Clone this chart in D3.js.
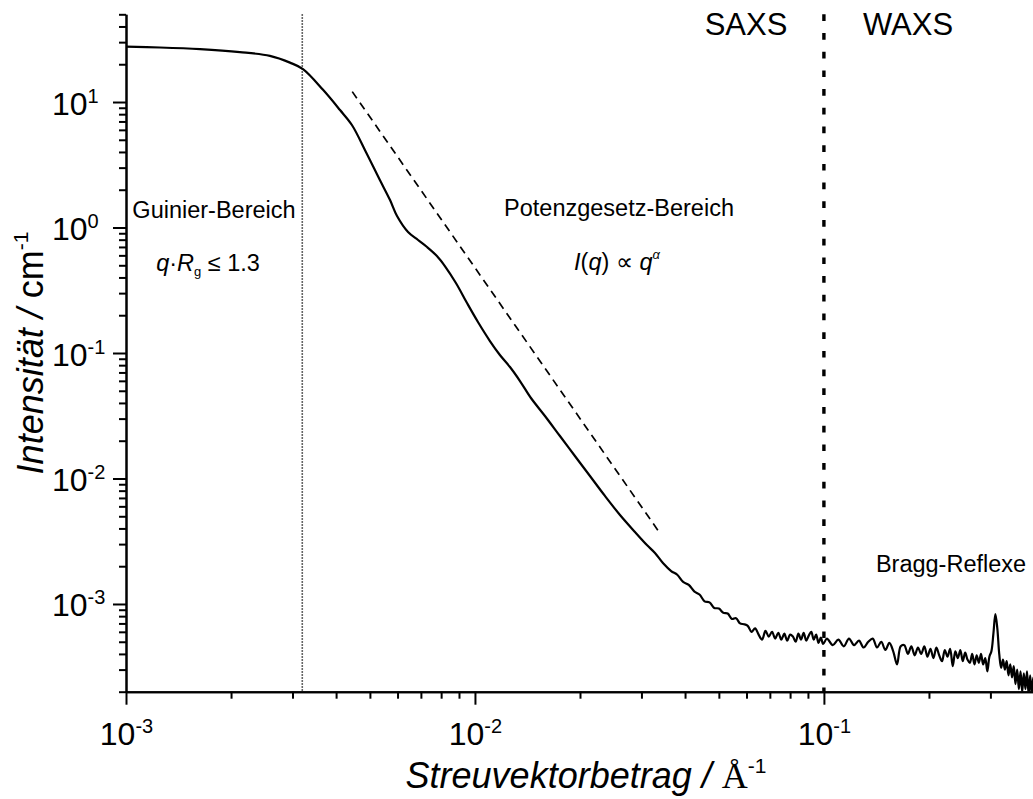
<!DOCTYPE html>
<html>
<head>
<meta charset="utf-8">
<script src="https://cdn.jsdelivr.net/npm/d3@7"></script>
<style>
  body { margin: 0; background: #fff; }
  svg { display: block; font-family: "Liberation Sans", Arial, sans-serif; }
</style>
</head>
<body>
<svg id="chart" width="1033" height="799"></svg>
<script>
// scattering curve (q in 1/Å, I in 1/cm)
const qLow = [1.0e-3, 1.251e-3, 1.63e-3, 2.12e-3, 2.585e-3, 2.95e-3, 3.215e-3, 3.67e-3, 4.105e-3, 4.44e-3,
  4.87e-3, 5.34e-3, 5.71e-3, 5.98e-3, 6.43e-3, 6.87e-3, 7.29e-3, 7.78e-3, 8.20e-3, 8.82e-3,
  9.49e-3, 1.020e-2, 1.104e-2, 1.179e-2, 1.260e-2, 1.346e-2, 1.447e-2, 1.587e-2, 1.752e-2, 1.934e-2,
  2.136e-2, 2.358e-2, 2.604e-2, 2.874e-2, 3.11e-2, 3.28e-2, 3.457e-2];
const iLow = [27.6, 27.2, 26.4, 25.0, 23.3, 20.6, 18.3, 12.5, 8.63, 6.56,
  4.0, 2.39, 1.656, 1.235, 0.921, 0.795, 0.699, 0.593, 0.493, 0.361,
  0.250, 0.1766, 0.1246, 0.0964, 0.0773, 0.0598, 0.0438, 0.0315, 0.0218, 0.0151,
  0.01047, 7.26e-3, 5.12e-3, 3.75e-3, 2.95e-3, 2.55e-3, 2.12e-3];

const qMid = [0.0365, 0.0380, 0.0395, 0.0410, 0.0425, 0.0440, 0.0455, 0.0470, 0.0485, 0.0500,
  0.0515, 0.0530, 0.0545, 0.0560, 0.0575, 0.0590, 0.0605, 0.0620, 0.0635, 0.0650,
  0.0665, 0.0680, 0.0695, 0.0710, 0.0725, 0.0740, 0.0755, 0.0770, 0.0785, 0.0800,
  0.0815, 0.0830, 0.0845, 0.0860, 0.0875, 0.0890, 0.0905, 0.0920, 0.0935, 0.0950,
  0.0965, 0.0980, 0.0995];
const iMid = [18.3e-4, 17.1e-4, 15.0e-4, 14.2e-4, 12.6e-4, 11.9e-4, 10.5e-4, 10.3e-4, 9.3e-4, 9.2e-4,
  8.5e-4, 8.4e-4, 7.6e-4, 7.7e-4, 7.0e-4, 6.9e-4, 6.7e-4, 6.0e-4, 6.4e-4, 5.7e-4,
  5.2e-4, 6.1e-4, 5.5e-4, 6.0e-4, 5.3e-4, 5.9e-4, 5.2e-4, 5.8e-4, 5.1e-4, 5.7e-4,
  5.5e-4, 5.0e-4, 5.8e-4, 5.2e-4, 5.9e-4, 5.1e-4, 5.6e-4, 6.0e-4, 5.2e-4, 5.7e-4,
  4.9e-4, 5.4e-4, 4.8e-4];

const qHigh = [0.102, 0.106, 0.110, 0.114, 0.118, 0.122, 0.126, 0.130, 0.134, 0.138,
  0.142, 0.146, 0.150, 0.154, 0.158, 0.162, 0.166, 0.170, 0.174, 0.178,
  0.182, 0.186, 0.190, 0.194, 0.198, 0.202, 0.206, 0.210, 0.214, 0.218,
  0.222, 0.226, 0.230, 0.234, 0.238, 0.242, 0.246, 0.250, 0.254, 0.258,
  0.262, 0.266, 0.270, 0.274, 0.278, 0.282, 0.286, 0.290, 0.294, 0.298,
  0.302, 0.306, 0.310, 0.314, 0.318, 0.322, 0.326, 0.330, 0.334, 0.338,
  0.342, 0.346, 0.350, 0.354, 0.358, 0.362, 0.366, 0.370, 0.374, 0.378,
  0.382, 0.386, 0.390, 0.394, 0.398, 0.402];
const iHigh = [5.3e-4, 4.7e-4, 5.2e-4, 4.6e-4, 5.3e-4, 4.7e-4, 5.1e-4, 4.5e-4, 5.0e-4, 5.3e-4,
  4.5e-4, 5.0e-4, 4.3e-4, 4.9e-4, 4.2e-4, 3.3e-4, 4.6e-4, 4.7e-4, 4.0e-4, 4.6e-4,
  3.9e-4, 4.5e-4, 4.0e-4, 4.6e-4, 3.8e-4, 4.4e-4, 3.7e-4, 4.5e-4, 3.9e-4, 3.5e-4,
  4.3e-4, 3.8e-4, 4.4e-4, 3.2e-4, 4.2e-4, 3.7e-4, 4.3e-4, 3.5e-4, 4.1e-4, 3.6e-4,
  3.4e-4, 4.0e-4, 3.3e-4, 3.9e-4, 3.4e-4, 4.0e-4, 3.3e-4, 3.7e-4, 2.9e-4, 3.8e-4,
  4.2e-4, 5.8e-4, 8.3e-4, 6.4e-4, 4.0e-4, 3.1e-4, 3.6e-4, 3.0e-4, 3.5e-4, 2.7e-4,
  3.3e-4, 2.6e-4, 3.2e-4, 2.3e-4, 3.0e-4, 2.1e-4, 2.9e-4, 2.0e-4, 2.8e-4, 2.1e-4,
  2.9e-4, 1.9e-4, 2.7e-4, 1.9e-4, 2.6e-4, 2.0e-4];

// q^-4 guide line (end points)
const porodQ = [0.00445, 0.0339];
const porodI = [12.1, 0.00366];

const guinierLimit = 0.0032;
const saxsWaxsLimit = 0.1;

const xMajor = [1e-3, 1e-2, 1e-1];
const yMajor = [1e-3, 1e-2, 1e-1, 1e0, 1e1];

var svg = d3.select("#chart");

var x = d3.scaleLog().domain([1e-3, 0.4]).range([126, 1034]);
var y = d3.scaleLog().domain([2e-4, 50]).range([691.7, 14.3]);

const xMinor = x.ticks().filter(d => !xMajor.some(m => Math.abs(m - d) / m < 1e-6));
const yMinor = y.ticks().filter(d => !yMajor.some(m => Math.abs(m - d) / m < 1e-6));

const curve = qLow.map((q, i) => [q, iLow[i]])
  .concat(qMid.map((q, i) => [q, iMid[i]]))
  .concat(qHigh.map((q, i) => [q, iHigh[i]]));

svg.append("defs").append("clipPath").attr("id", "plot-clip")
  .append("rect")
  .attr("x", x.range()[0]).attr("y", y.range()[1])
  .attr("width", x.range()[1] - x.range()[0])
  .attr("height", y.range()[0] - y.range()[1]);

// region borders
svg.append("line")
  .attr("x1", x(guinierLimit)).attr("x2", x(guinierLimit))
  .attr("y1", y.range()[1]).attr("y2", y.range()[0])
  .attr("stroke", "#333").attr("stroke-width", 1.6)
  .attr("stroke-dasharray", "1.5,1.5");

svg.append("line")
  .attr("x1", x(saxsWaxsLimit)).attr("x2", x(saxsWaxsLimit))
  .attr("y1", y.range()[1]).attr("y2", y.range()[0])
  .attr("stroke", "#000").attr("stroke-width", 3.4)
  .attr("stroke-dasharray", "6.7,12");

// power law guide
svg.append("line")
  .attr("x1", x(porodQ[0])).attr("y1", y(porodI[0]))
  .attr("x2", x(porodQ[1])).attr("y2", y(porodI[1]))
  .attr("stroke", "#000").attr("stroke-width", 1.7)
  .attr("stroke-dasharray", "8,5.5");

// measured curve
var line = d3.line()
  .x(d => x(d[0]))
  .y(d => y(d[1]))
  .curve(d3.curveCatmullRom.alpha(0.5));

svg.append("path")
  .datum(curve)
  .attr("clip-path", "url(#plot-clip)")
  .attr("fill", "none")
  .attr("stroke", "#000")
  .attr("stroke-width", 2.2)
  .attr("stroke-linejoin", "round")
  .attr("d", line);

// axes
function styleAxis(g) {
  g.selectAll("path, line").attr("stroke", "#000").attr("stroke-width", 2);
}

function powerLabel(sel, anchor) {
  sel.each(function (d) {
    const t = d3.select(this).text(null).attr("text-anchor", anchor);
    t.append("tspan").text("10");
    t.append("tspan").attr("font-size", 20).attr("dy", -12).text(String(Math.round(Math.log10(d))));
  });
}

var xAxisY = y.range()[0];
svg.append("g")
  .attr("transform", `translate(0,${xAxisY})`)
  .call(d3.axisBottom(x).tickValues(xMinor).tickSize(7).tickSizeOuter(0).tickFormat(""))
  .call(styleAxis);

var gxMajor = svg.append("g")
  .attr("transform", `translate(0,${xAxisY})`)
  .call(d3.axisBottom(x).tickValues(xMajor).tickSize(13).tickSizeOuter(0))
  .call(styleAxis);
gxMajor.selectAll(".tick text")
  .attr("font-family", null).attr("font-size", 32).attr("fill", "#000")
  .attr("y", 53).attr("dy", null)
  .call(powerLabel, "middle");

var yAxisX = x.range()[0];
svg.append("g")
  .attr("transform", `translate(${yAxisX},0)`)
  .call(d3.axisLeft(y).tickValues(yMinor).tickSize(7).tickSizeOuter(0).tickFormat(""))
  .call(styleAxis);

var gyMajor = svg.append("g")
  .attr("transform", `translate(${yAxisX},0)`)
  .call(d3.axisLeft(y).tickValues(yMajor).tickSize(13).tickSizeOuter(0))
  .call(styleAxis);
gyMajor.selectAll(".tick text")
  .attr("font-family", null).attr("font-size", 32).attr("fill", "#000")
  .attr("x", -74).attr("y", 12).attr("dy", null)
  .call(powerLabel, "start");

// text helpers
function richText(px, py, size, parts, anchor) {
  const t = svg.append("text")
    .attr("x", px).attr("y", py)
    .attr("font-size", size)
    .attr("text-anchor", anchor || "middle")
    .attr("fill", "#000");
  parts.forEach(p => {
    const s = t.append("tspan").text(p.t);
    if (p.i) s.attr("font-style", "italic");
    if (p.s) s.attr("font-size", p.s);
    if (p.dy) s.attr("dy", p.dy);
    if (p.f) s.attr("font-family", p.f);
  });
  return t;
}

richText(746, 35, 31, [{ t: "SAXS" }]);
richText(908, 35, 31, [{ t: "WAXS" }]);

richText(214, 218, 23.5, [{ t: "Guinier-Bereich" }]);
richText(208, 271, 23.5, [
  { t: "q", i: true }, { t: "·" }, { t: "R", i: true },
  { t: "g", s: 13, dy: 5 }, { t: " ≤ 1.3", dy: -5 }
]);

richText(619, 216, 23.5, [{ t: "Potenzgesetz-Bereich" }]);
richText(617, 270, 23.5, [
  { t: "I", i: true }, { t: "(" }, { t: "q", i: true }, { t: ") ∝ " },
  { t: "q", i: true }, { t: "α", i: true, s: 13, dy: -11 }
]);

richText(951, 572, 23.5, [{ t: "Bragg-Reflexe" }]);

// axis titles
richText(586, 788, 36, [
  { t: "Streuvektorbetrag / ", i: true },
  { t: "Å", f: "'Liberation Serif', 'Times New Roman', serif" },
  { t: "-1", s: 21, dy: -15 }
]);

richText(0, 0, 36, [
  { t: "Intensität / ", i: true },
  { t: "cm" },
  { t: "-1", s: 21, dy: -15 }
]).attr("transform", `translate(43,${(y.range()[0] + y.range()[1]) / 2}) rotate(-90)`);
</script>
</body>
</html>
